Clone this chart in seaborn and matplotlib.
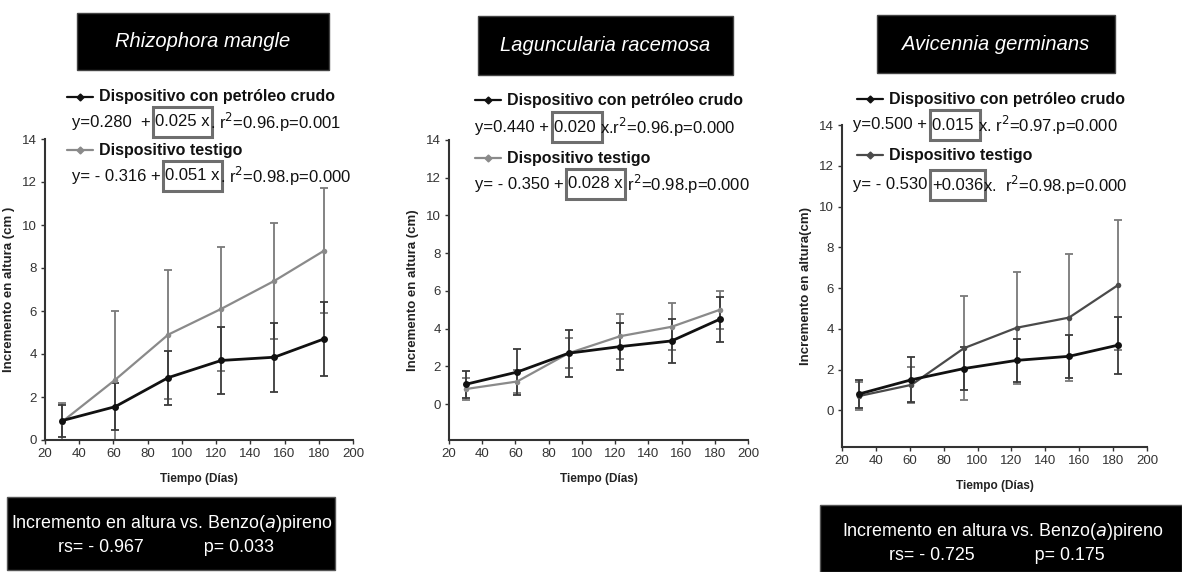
import numpy as np
import pandas as pd
import matplotlib
matplotlib.use('Agg')
import matplotlib.pyplot as plt
import seaborn as sns
from matplotlib.patches import Rectangle
from matplotlib.lines import Line2D

sns.set_theme(style='white')
plt.rcParams['font.family'] = ['Liberation Sans', 'DejaVu Sans']

# data
dias = [30, 61, 92, 123, 154, 183]

especies = ['Rhizophora mangle', 'Laguncularia racemosa', 'Avicennia germinans']

crudo_rm = [0.9, 1.55, 2.9, 3.7, 3.85, 4.7]
crudo_rm_err = [0.75, 1.1, 1.25, 1.55, 1.6, 1.7]
testigo_rm = [0.85, 2.8, 4.9, 6.1, 7.4, 8.8]
testigo_rm_err = [0.85, 3.2, 3.0, 2.9, 2.7, 2.9]

crudo_lr = [1.05, 1.7, 2.7, 3.05, 3.35, 4.5]
crudo_lr_err = [0.7, 1.2, 1.25, 1.25, 1.15, 1.2]
testigo_lr = [0.8, 1.2, 2.7, 3.6, 4.1, 5.0]
testigo_lr_err = [0.6, 0.6, 0.8, 1.2, 1.25, 1.0]

crudo_ag = [0.8, 1.5, 2.05, 2.45, 2.65, 3.2]
crudo_ag_err = [0.7, 1.1, 1.05, 1.05, 1.05, 1.4]
testigo_ag = [0.7, 1.25, 3.05, 4.05, 4.55, 6.15]
testigo_ag_err = [0.7, 0.9, 2.55, 2.75, 3.1, 3.2]

ecuaciones_crudo = [('y=0.280  + ', '0.025 x', '. r$^2$=0.96.p=0.001'),
                    ('y=0.440 + ', '0.020 ', 'x.r$^2$=0.96.p=0.000'),
                    ('y=0.500 + ', '0.015 ', 'x. r$^2$=0.97.p=0.000')]
ecuaciones_testigo = [('y= - 0.316 + ', '0.051 x', '. r$^2$=0.98.p=0.000'),
                      ('y= - 0.350 + ', '0.028 x', ' r$^2$=0.98.p=0.000'),
                      ('y= - 0.530 ', '+0.036', 'x.  r$^2$=0.98.p=0.000')]
ylabels = ['Incremento en altura (cm )', 'Incremento en altura (cm)', 'Incremento en altura(cm)']
correlaciones = [('- 0.967', '0.033'), None, ('- 0.725', '0.175')]

W, H = 1182, 572
fig = plt.figure(figsize=(W / 100, H / 100), dpi=100)


def fx(x):
    return x / W


def fy(y):
    return 1 - y / H


# axes boxes in pixels: left, top, right, bottom, ymin
marcos = [(45, 139, 353, 440, 0), (449, 140, 748, 440, -1.9), (842, 125, 1147, 447, -1.8)]
titulos = [(77, 13, 329, 70), (478, 16, 733, 75), (877, 15, 1115, 73)]
leyendas = [(67, 97, 72, 122, 150, 176), (475, 100, 475, 127, 158, 184), (857, 99, 853, 125, 155, 185)]

series = [(crudo_rm, crudo_rm_err, testigo_rm, testigo_rm_err),
          (crudo_lr, crudo_lr_err, testigo_lr, testigo_lr_err),
          (crudo_ag, crudo_ag_err, testigo_ag, testigo_ag_err)]
gris = ['#8a8a8a', '#8a8a8a', '#4a4a4a']

for i in range(3):
    l, t, r, b, ymin = marcos[i]
    ax = fig.add_axes([fx(l), fy(b), (r - l) / W, (b - t) / H])
    c, ce, te, tee = series[i]
    df = pd.DataFrame({'dias': dias, 'crudo': c, 'testigo': te})
    ax.errorbar(dias, te, yerr=tee, fmt='none', ecolor='#7a7a7a', elinewidth=1.3, capsize=3, capthick=1.3, zorder=1)
    ax.errorbar(dias, c, yerr=ce, fmt='none', ecolor='#3a3a3a', elinewidth=1.3, capsize=3, capthick=1.3, zorder=1)
    sns.lineplot(data=df, x='dias', y='testigo', ax=ax, color=gris[i], lw=1.6, marker='o', markersize=4,
                 markeredgewidth=0, zorder=3)
    sns.lineplot(data=df, x='dias', y='crudo', ax=ax, color='#111111', lw=2.0, marker='o', markersize=5,
                 markeredgewidth=0, zorder=4)
    ax.set_xlim(20, 200)
    ax.set_ylim(ymin, 14)
    ax.set_xticks(range(20, 201, 20))
    ax.set_yticks(range(0, 15, 2))
    for s in ['top', 'right']:
        ax.spines[s].set_visible(False)
    for s in ['left', 'bottom']:
        ax.spines[s].set_color('#333333')
        ax.spines[s].set_linewidth(1.5)
    ax.tick_params(axis='both', direction='out', length=3, width=1, colors='#333333', labelsize=9.5,
                   labelcolor='#333333', left=True, bottom=True, pad=3)
    ax.set_xlabel('Tiempo (Días)', fontsize=8.5, fontweight='bold', color='#222222', labelpad=9)
    ax.set_ylabel(ylabels[i], fontsize=9.5, fontweight='bold', color='#222222', labelpad=5)
    ax.patch.set_alpha(0)

    # black title box
    x0, y0, x1, y1 = titulos[i]
    fig.add_artist(Rectangle((fx(x0), fy(y1)), (x1 - x0) / W, (y1 - y0) / H, transform=fig.transFigure,
                             facecolor='black', edgecolor='#444444', lw=1))
    fig.text(fx((x0 + x1) / 2), fy((y0 + y1) / 2), especies[i], color='white', style='italic',
             fontsize=14.5, ha='center', va='center')

    # legend with equations
    mx, ly1, ex, ey1, ly2, ey2 = leyendas[i]
    for ly, col, lab in [(ly1, '#111111', 'Dispositivo con petróleo crudo'), (ly2, gris[i], 'Dispositivo testigo')]:
        fig.add_artist(Line2D([fx(mx), fx(mx + 26)], [fy(ly), fy(ly)], transform=fig.transFigure,
                              color=col, lw=1.6))
        fig.add_artist(Line2D([fx(mx + 13)], [fy(ly)], transform=fig.transFigure, color=col,
                              marker='D', markersize=3.5, lw=0))
        fig.text(fx(mx + 32), fy(ly), lab, fontsize=11.5, fontweight='bold', ha='left', va='center',
                 color='#111111')
    for ey, eq in [(ey1, ecuaciones_crudo[i]), (ey2, ecuaciones_testigo[i])]:
        t1 = fig.text(fx(ex), fy(ey), eq[0], fontsize=12, ha='left', va='center', color='#111111')
        fig.canvas.draw()
        bb = t1.get_window_extent()
        t2 = fig.text(bb.x1 / W, fy(ey), eq[1], fontsize=12, ha='left', va='center', color='#111111')
        bb2 = t2.get_window_extent()
        fig.add_artist(Rectangle((bb2.x0 / W - 2 / W, fy(ey + 15)), (bb2.width + 4) / W, 30 / H,
                                 transform=fig.transFigure, facecolor='none', edgecolor='#6e6e6e', lw=2.2))
        fig.text(bb2.x1 / W, fy(ey), eq[2], fontsize=12, ha='left', va='center', color='#111111')

# bottom correlation boxes: box pixels and text centres
cajas = [(7, 497, 335, 570, 172, 166), None, (820, 505, 1182, 572, 1003, 997)]
for i in range(3):
    if correlaciones[i] is None:
        continue
    x0, y0, x1, y1, c1, c2 = cajas[i]
    rs, p = correlaciones[i]
    fig.add_artist(Rectangle((fx(x0), fy(y1)), (x1 - x0) / W, (y1 - y0) / H, transform=fig.transFigure,
                             facecolor='black', edgecolor='#555555', lw=1))
    fig.text(fx(c1), fy(y0 + 26), 'Incremento en altura vs. Benzo($\\it{a}$)pireno', color='white',
             fontsize=12.9, ha='center', va='center')
    fig.text(fx(c2), fy(y0 + 50), 'rs= ' + rs + '            p= ' + p, color='white',
             fontsize=12.9, ha='center', va='center')

fig.savefig('out.png', dpi=100)
